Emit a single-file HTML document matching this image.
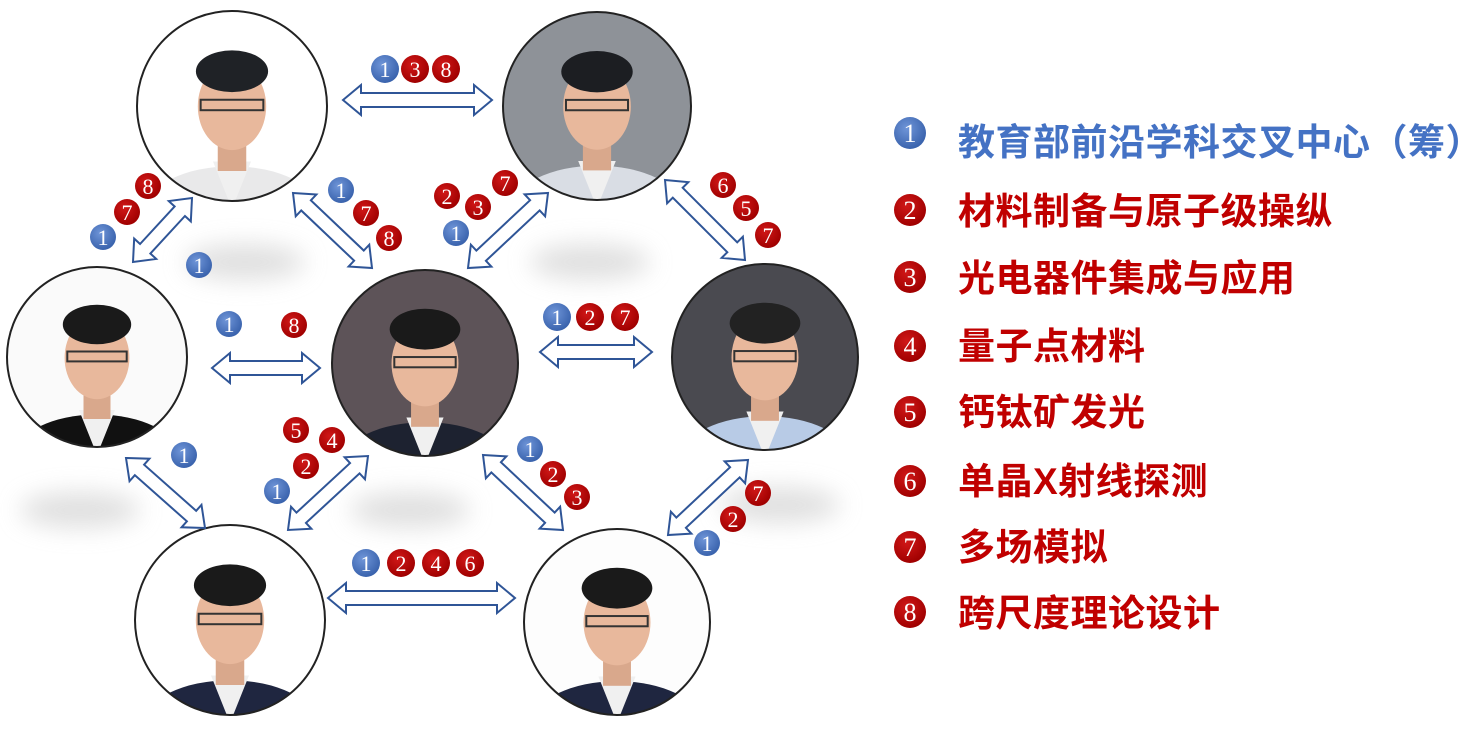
<!DOCTYPE html>
<html><head><meta charset="utf-8"><style>
html,body{margin:0;padding:0;background:#fff;width:1484px;height:751px;overflow:hidden}
svg{display:block}
.b text{font-family:"Liberation Serif",serif;font-size:22px;fill:#fff;text-anchor:middle}
.lg{font-family:"Liberation Sans","Noto Sans CJK SC",sans-serif;font-weight:bold;font-size:37px;letter-spacing:0.5px}
</style></head><body>
<svg id="s" width="1484" height="751" viewBox="0 0 1484 751">
<defs>
<filter id="bl"><feGaussianBlur stdDeviation="12"/></filter>
<radialGradient id="gb" cx="40%" cy="35%" r="65%"><stop offset="0" stop-color="#6f95d8"/><stop offset="1" stop-color="#3a63ad"/></radialGradient>
<radialGradient id="gr" cx="40%" cy="35%" r="65%"><stop offset="0" stop-color="#d01818"/><stop offset="1" stop-color="#a00000"/></radialGradient>
</defs>
<g fill="#d8d8d8" filter="url(#bl)" opacity="0.8">
<ellipse cx="245" cy="262" rx="60" ry="18"/>
<ellipse cx="590" cy="262" rx="60" ry="18"/>
<ellipse cx="80" cy="510" rx="60" ry="18"/>
<ellipse cx="410" cy="510" rx="60" ry="18"/>
<ellipse cx="780" cy="505" rx="60" ry="18"/>
</g>
<g id="photos"></g>
<g id="arrows"></g>
<g class="b">
<circle cx="385" cy="69" r="14" fill="url(#gb)"/><text x="385" y="77">1</text>
<circle cx="415" cy="69" r="14" fill="url(#gr)"/><text x="415" y="77">3</text>
<circle cx="446" cy="69" r="14" fill="url(#gr)"/><text x="446" y="77">8</text>
<circle cx="148" cy="186" r="13" fill="url(#gr)"/><text x="148" y="194">8</text>
<circle cx="127" cy="212" r="13" fill="url(#gr)"/><text x="127" y="220">7</text>
<circle cx="103" cy="237" r="13" fill="url(#gb)"/><text x="103" y="245">1</text>
<circle cx="199" cy="265" r="13" fill="url(#gb)"/><text x="199" y="273">1</text>
<circle cx="341" cy="190" r="13" fill="url(#gb)"/><text x="341" y="198">1</text>
<circle cx="366" cy="213" r="13" fill="url(#gr)"/><text x="366" y="221">7</text>
<circle cx="389" cy="238" r="13" fill="url(#gr)"/><text x="389" y="246">8</text>
<circle cx="447" cy="196" r="13" fill="url(#gr)"/><text x="447" y="204">2</text>
<circle cx="478" cy="207" r="13" fill="url(#gr)"/><text x="478" y="215">3</text>
<circle cx="505" cy="183" r="13" fill="url(#gr)"/><text x="505" y="191">7</text>
<circle cx="456" cy="233" r="13" fill="url(#gb)"/><text x="456" y="241">1</text>
<circle cx="723" cy="185" r="13" fill="url(#gr)"/><text x="723" y="193">6</text>
<circle cx="746" cy="208" r="13" fill="url(#gr)"/><text x="746" y="216">5</text>
<circle cx="768" cy="235" r="13" fill="url(#gr)"/><text x="768" y="243">7</text>
<circle cx="229" cy="324" r="13" fill="url(#gb)"/><text x="229" y="332">1</text>
<circle cx="294" cy="325" r="13" fill="url(#gr)"/><text x="294" y="333">8</text>
<circle cx="557" cy="317" r="14" fill="url(#gb)"/><text x="557" y="325">1</text>
<circle cx="590" cy="317" r="14" fill="url(#gr)"/><text x="590" y="325">2</text>
<circle cx="625" cy="317" r="14" fill="url(#gr)"/><text x="625" y="325">7</text>
<circle cx="184" cy="455" r="13" fill="url(#gb)"/><text x="184" y="463">1</text>
<circle cx="296" cy="430" r="13" fill="url(#gr)"/><text x="296" y="438">5</text>
<circle cx="332" cy="440" r="13" fill="url(#gr)"/><text x="332" y="448">4</text>
<circle cx="306" cy="466" r="13" fill="url(#gr)"/><text x="306" y="474">2</text>
<circle cx="277" cy="491" r="13" fill="url(#gb)"/><text x="277" y="499">1</text>
<circle cx="530" cy="449" r="13" fill="url(#gb)"/><text x="530" y="457">1</text>
<circle cx="553" cy="474" r="13" fill="url(#gr)"/><text x="553" y="482">2</text>
<circle cx="577" cy="497" r="13" fill="url(#gr)"/><text x="577" y="505">3</text>
<circle cx="758" cy="493" r="13" fill="url(#gr)"/><text x="758" y="501">7</text>
<circle cx="733" cy="519" r="13" fill="url(#gr)"/><text x="733" y="527">2</text>
<circle cx="707" cy="543" r="13" fill="url(#gb)"/><text x="707" y="551">1</text>
<circle cx="366" cy="563" r="14" fill="url(#gb)"/><text x="366" y="571">1</text>
<circle cx="401" cy="563" r="14" fill="url(#gr)"/><text x="401" y="571">2</text>
<circle cx="436" cy="563" r="14" fill="url(#gr)"/><text x="436" y="571">4</text>
<circle cx="470" cy="563" r="14" fill="url(#gr)"/><text x="470" y="571">6</text>
</g>
<g class="b">
<circle cx="910" cy="133" r="16" fill="url(#gb)"/><text x="910" y="142" style="font-size:26px">1</text>
<circle cx="910" cy="210" r="16" fill="url(#gr)"/><text x="910" y="219" style="font-size:26px">2</text>
<circle cx="910" cy="277" r="16" fill="url(#gr)"/><text x="910" y="286" style="font-size:26px">3</text>
<circle cx="910" cy="346" r="16" fill="url(#gr)"/><text x="910" y="355" style="font-size:26px">4</text>
<circle cx="910" cy="412" r="16" fill="url(#gr)"/><text x="910" y="421" style="font-size:26px">5</text>
<circle cx="910" cy="481" r="16" fill="url(#gr)"/><text x="910" y="490" style="font-size:26px">6</text>
<circle cx="910" cy="547" r="16" fill="url(#gr)"/><text x="910" y="556" style="font-size:26px">7</text>
<circle cx="910" cy="612" r="16" fill="url(#gr)"/><text x="910" y="621" style="font-size:26px">8</text>
</g>
<g class="lg">
<text x="958" y="155" fill="#4472c4">教育部前沿学科交叉中心（筹）</text>
<text x="958" y="224" fill="#c00000">材料制备与原子级操纵</text>
<text x="958" y="291" fill="#c00000">光电器件集成与应用</text>
<text x="958" y="359" fill="#c00000">量子点材料</text>
<text x="958" y="425" fill="#c00000">钙钛矿发光</text>
<text x="958" y="494" fill="#c00000">单晶X射线探测</text>
<text x="958" y="560" fill="#c00000">多场模拟</text>
<text x="958" y="626" fill="#c00000">跨尺度理论设计</text>
</g>
</svg>
<script>
var NS="http://www.w3.org/2000/svg";
function el(p,t,a){var e=document.createElementNS(NS,t);for(var k in a)e.setAttribute(k,a[k]);p.appendChild(e);return e;}
var P=[[232,106,95,"#fff","#1f2226","#e9e9ea"],[597,106,94,"#8e9298","#1c1e22","#d9dde4"],[97,357,90,"#fafafa","#1a1a1a","#111"],[425,363,93,"#5d5358","#1a1a1a","#1d2230"],[765,357,93,"#4a4a50","#222","#b8cbe6"],[230,620,95,"#fff","#1a1a1a","#1f2640"],[617,622,93,"#fdfdfd","#1a1a1a","#1f2640"]];
var g=document.getElementById("photos");
P.forEach(function(p,i){
 var d=el(g,"defs",{});var c=el(d,"clipPath",{id:"c"+i});el(c,"circle",{cx:p[0],cy:p[1],r:p[2]});
 var gg=el(g,"g",{"clip-path":"url(#c"+i+")"});
 var x=p[0],y=p[1]+8,r=p[2];
 el(gg,"rect",{x:x-r,y:y-r-8,width:2*r,height:2*r,fill:p[3]});
 el(gg,"ellipse",{cx:x,cy:y+r*1.0,rx:r*0.9,ry:r*0.45,fill:p[5]});
 el(gg,"path",{d:"M"+(x-r*0.2)+" "+(y+r*0.5)+" L"+x+" "+(y+r)+" L"+(x+r*0.2)+" "+(y+r*0.5)+"Z",fill:"#f0f0f0"});
 el(gg,"rect",{x:x-r*0.15,y:y+r*0.2,width:r*0.3,height:r*0.4,fill:"#d9a88c"});
 el(gg,"ellipse",{cx:x,cy:y-r*0.08,rx:r*0.36,ry:r*0.46,fill:"#e8b89c"});
 el(gg,"ellipse",{cx:x,cy:y-r*0.45,rx:r*0.38,ry:r*0.22,fill:p[4]});
 el(gg,"rect",{x:x-r*0.33,y:y-r*0.15,width:r*0.66,height:r*0.11,fill:"none",stroke:"#333","stroke-width":2});
 el(g,"circle",{cx:x,cy:p[1],r:r,fill:"none",stroke:"#222","stroke-width":2});
});
var A=[[343,100,492,100],[133,262,192,198],[293,193,372,268],[468,268,548,193],[665,180,745,260],[212,368,320,368],[540,352,652,352],[126,458,205,528],[288,530,368,456],[483,455,563,530],[668,535,748,460],[328,598,515,598]];
var ag=document.getElementById("arrows");
A.forEach(function(a){
 var dx=a[2]-a[0],dy=a[3]-a[1],L=Math.hypot(dx,dy),ang=Math.atan2(dy,dx)*180/Math.PI;
 var h=18,w=7,W=15;
 var d="M0 0 L"+h+" "+(-W)+" L"+h+" "+(-w)+" L"+(L-h)+" "+(-w)+" L"+(L-h)+" "+(-W)+" L"+L+" 0 L"+(L-h)+" "+W+" L"+(L-h)+" "+w+" L"+h+" "+w+" L"+h+" "+W+"Z";
 el(ag,"path",{d:d,fill:"#fff",stroke:"#2f5597","stroke-width":2,"stroke-linejoin":"miter",transform:"translate("+a[0]+","+a[1]+") rotate("+ang+")"});
});
</script>
</body></html>
